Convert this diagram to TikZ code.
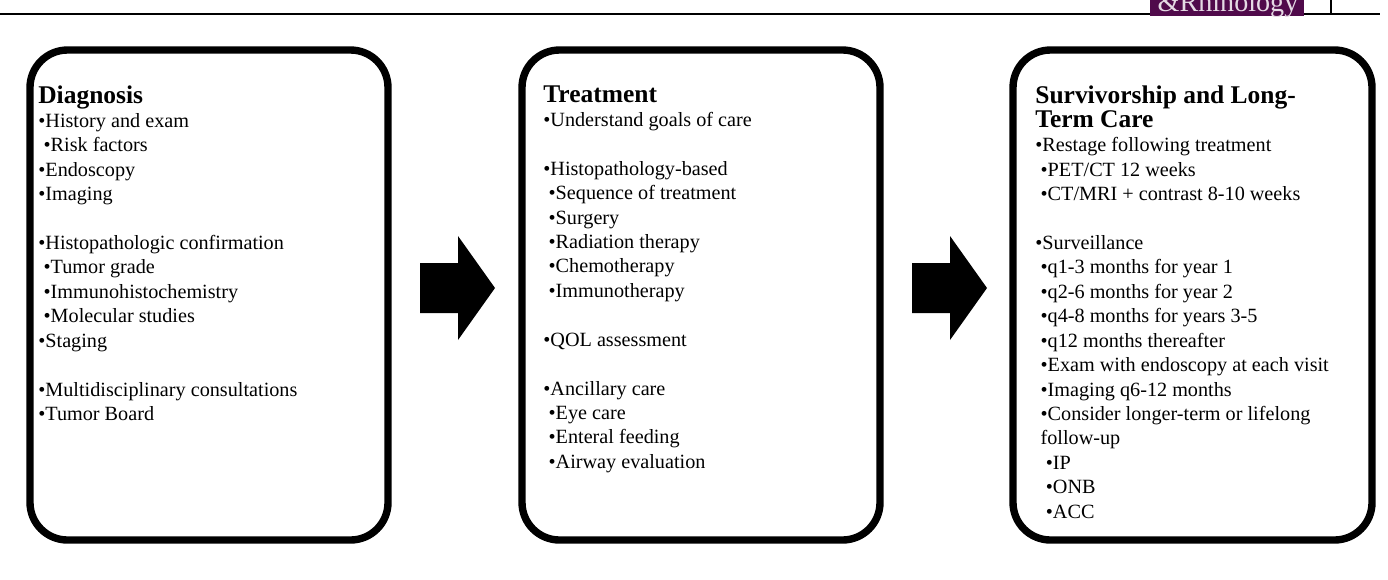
\documentclass[tikz,border=0pt]{standalone}
\usepackage{fontspec}
\setmainfont{Liberation Serif}
\usetikzlibrary{positioning}
\definecolor{rhino}{RGB}{80,10,75}
\tikzset{
  panel/.style={draw, line width=4.2pt, rounded corners=0.75cm},
  body/.style={anchor=north west, align=left, inner sep=0pt, font=\fontsize{11.5}{13.9}\selectfont},
  bigarrow/.style={fill=black, draw=none}
}
\newcommand{\ttl}[1]{{\fontsize{14.5}{15.5}\selectfont\bfseries #1}}
\newcommand{\sub}{\hspace*{3pt}}
\begin{document}
\begin{tikzpicture}[x=0.02cm, y=-0.02cm]
\useasboundingbox (0,0) rectangle (1388,579);
% header
\draw[line width=0.6pt] (0,14) -- (1380,14);
\draw[line width=0.6pt] (1331,0) -- (1331,14);
\begin{scope}
\clip (1150,0) rectangle (1304,16);
\node[fill=rhino, minimum width=3.08cm, minimum height=0.6cm, anchor=south west, inner sep=0pt] (logo) at (1150,16) {};
\node[text=white!85!rhino, font=\fontsize{16}{16}\selectfont, anchor=base] (logoname) at (1228,11) {\&Rhinology};
\end{scope}
% panels
\draw[panel] (30,50) rectangle (388,540);
\draw[panel] (522,50) rectangle (880,540);
\draw[panel] (1013,50) rectangle (1372,540);
% arrows
\foreach \xx/\nm in {420/first, 912/second}
  \fill[bigarrow] (\xx,263) -- (\xx+38,263) -- (\xx+38,236) -- (\xx+75,288) -- (\xx+38,340) -- (\xx+38,313) -- (\xx,313) -- cycle;
% texts
\node[body] (diag) at (38,85) {\ttl{Diagnosis}\\[0pt]
•History and exam\\
\sub•Risk factors\\
•Endoscopy\\
•Imaging\\[13.9pt]
•Histopathologic confirmation\\
\sub•Tumor grade\\
\sub•Immunohistochemistry\\
\sub•Molecular studies\\
•Staging\\[13.9pt]
•Multidisciplinary consultations\\
•Tumor Board};
\node[body] (treat) at (543,85) {\ttl{Treatment}\\[0pt]
•Understand goals of care\\[13.9pt]
•Histopathology-based\\
\sub•Sequence of treatment\\
\sub•Surgery\\
\sub•Radiation therapy\\
\sub•Chemotherapy\\
\sub•Immunotherapy\\[13.9pt]
•QOL assessment\\[13.9pt]
•Ancillary care\\
\sub•Eye care\\
\sub•Enteral feeding\\
\sub•Airway evaluation};
\node[body] (surv) at (1035,85) {\ttl{Survivorship and Long-}\\
\ttl{Term Care}\\[0pt]
•Restage following treatment\\
\sub•PET/CT 12 weeks\\
\sub•CT/MRI + contrast 8-10 weeks\\[13.9pt]
•Surveillance\\
\sub•q1-3 months for year 1\\
\sub•q2-6 months for year 2\\
\sub•q4-8 months for years 3-5\\
\sub•q12 months thereafter\\
\sub•Exam with endoscopy at each visit\\
\sub•Imaging q6-12 months\\
\sub•Consider longer-term or lifelong\\
\sub follow-up\\
\sub\sub•IP\\
\sub\sub•ONB\\
\sub\sub•ACC};
\end{tikzpicture}
\end{document}
